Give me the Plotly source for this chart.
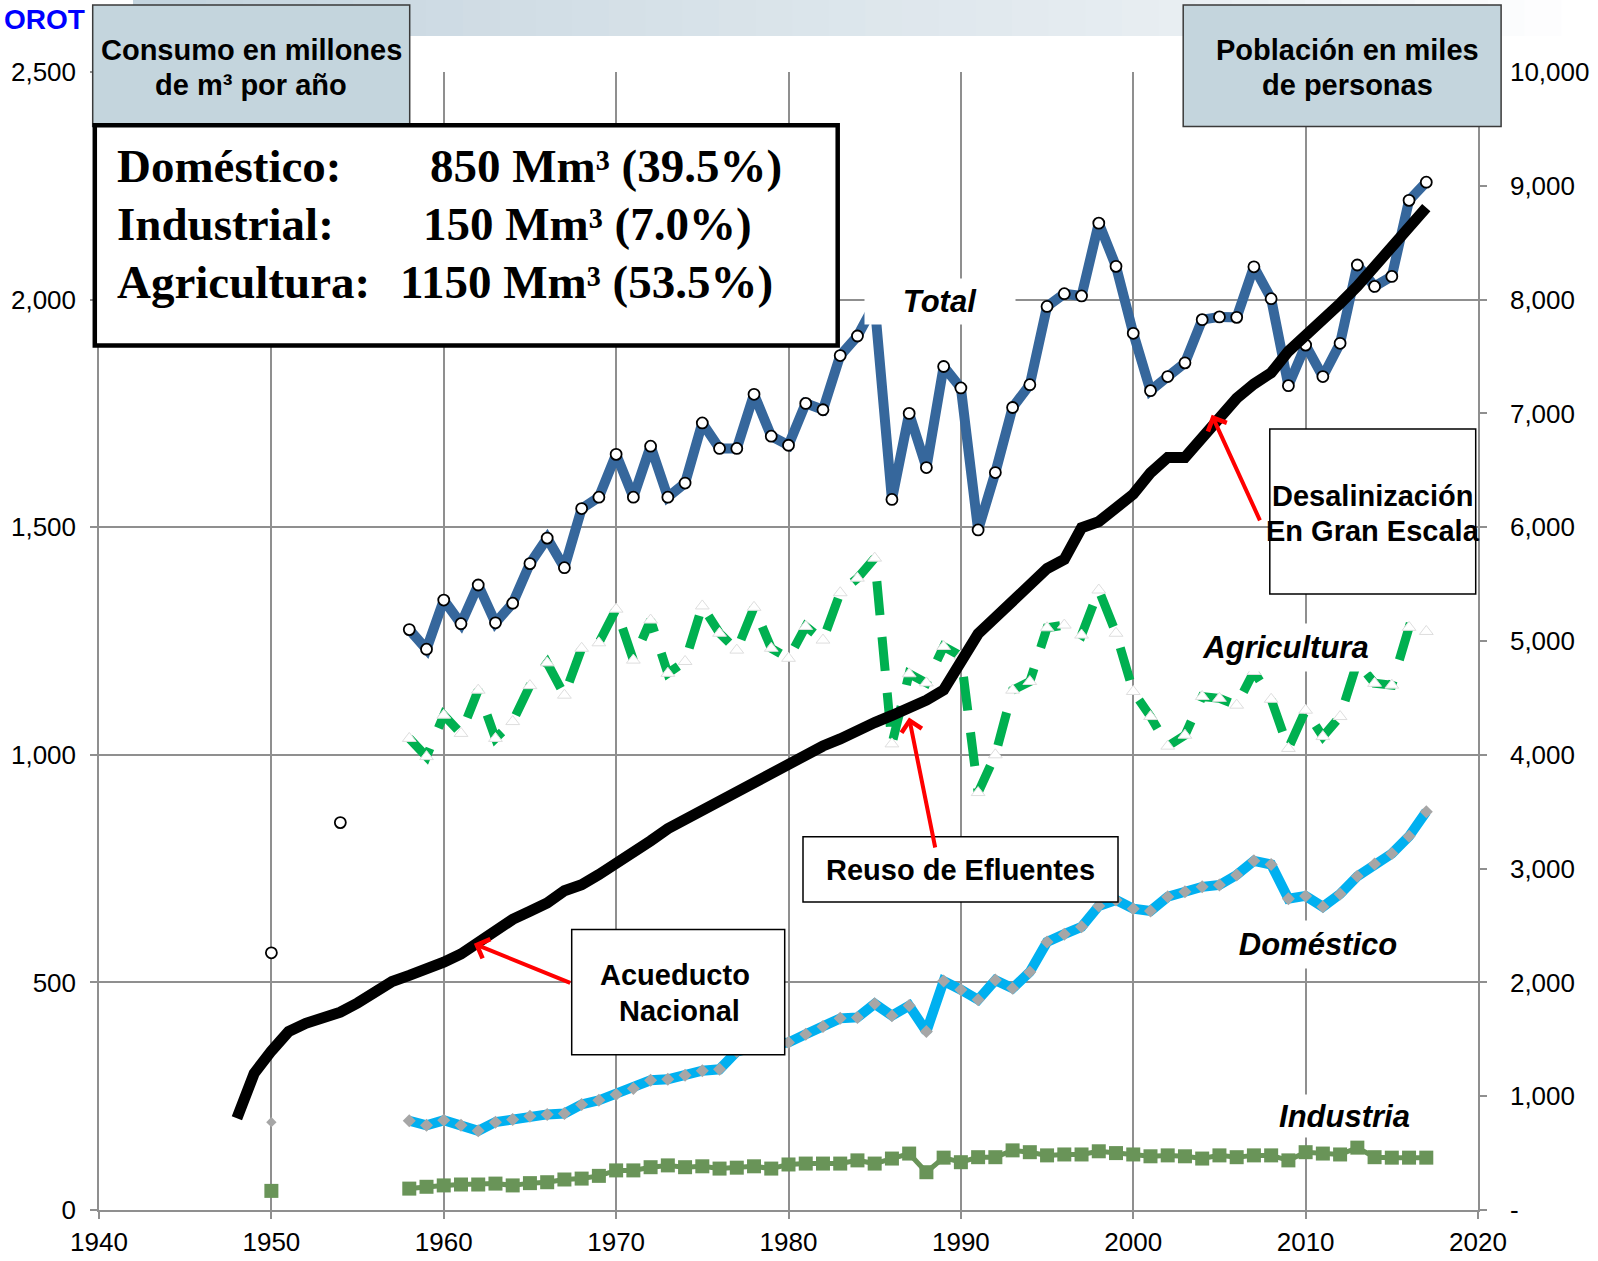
import plotly.graph_objects as go

# ---------------- data ----------------
years_pop = list(range(1948, 2018))
population = [806, 1200, 1397, 1568, 1640, 1685, 1738, 1819, 1909, 2007,
              2061, 2115, 2177, 2249, 2357, 2464, 2554, 2625, 2697, 2805,
              2858, 2948, 3038, 3136, 3244, 3351, 3432, 3504, 3584, 3665,
              3746, 3844, 3934, 3996, 4077, 4140, 4220, 4283, 4346, 4409,
              4480, 4570, 4812, 5063, 5206, 5341, 5484, 5636, 5717, 5995,
              6049, 6183, 6290, 6478, 6613, 6613, 6783, 6971, 7133, 7258,
              7357, 7545, 7679, 7822, 7966, 8118, 8289, 8450, 8629, 8808]

years = list(range(1958, 2018))
total = [1275, 1232, 1340, 1288, 1373, 1290, 1333, 1420, 1476, 1411,
         1541, 1566, 1660, 1566, 1678, 1566, 1597, 1729, 1673, 1673,
         1792, 1700, 1680, 1772, 1758, 1877, 1920, 1990, 1561, 1750,
         1631, 1853, 1806, 1494, 1620, 1763, 1813, 1985, 2013, 2008,
         2168, 2073, 1926, 1800, 1831, 1861, 1956, 1962, 1961, 2072,
         2002, 1811, 1900, 1831, 1904, 2076, 2029, 2051, 2218, 2258]
domestic = [196, 186, 197, 186, 174, 193, 199, 206, 210, 212,
            232, 241, 254, 267, 285, 287, 296, 306, 309, 348,
            358, 365, 368, 386, 403, 421, 423, 453, 427, 449,
            392, 503, 484, 462, 505, 487, 523, 589, 606, 622,
            668, 681, 662, 657, 688, 699, 710, 714, 736, 767,
            759, 684, 690, 666, 694, 733, 760, 783, 821, 875]
industry = [47, 51, 54, 56, 56, 58, 54, 59, 61, 67,
            69, 75, 87, 87, 94, 98, 94, 96, 91, 93,
            96, 91, 100, 102, 102, 102, 109, 102, 113, 124,
            83, 115, 105, 116, 116, 131, 127, 120, 122, 122,
            129, 125, 122, 118, 120, 118, 113, 120, 116, 120,
            120, 109, 127, 124, 122, 137, 116, 115, 115, 115]
agriculture = [1036, 996, 1087, 1047, 1142, 1036, 1073, 1152, 1202, 1131,
               1234, 1246, 1320, 1208, 1296, 1179, 1205, 1327, 1267, 1230,
               1324, 1234, 1212, 1282, 1252, 1356, 1388, 1432, 1024, 1178,
               1158, 1238, 1217, 917, 1000, 1142, 1161, 1279, 1285, 1263,
               1362, 1267, 1139, 1084, 1019, 1043, 1128, 1124, 1109, 1183,
               1122, 1014, 1098, 1040, 1084, 1204, 1157, 1153, 1280, 1271]

years_early_total = [1950, 1954]
total_early = [565, 851]
years_early_sector = [1950]
domestic_early = [193]
industry_early = [42]

x_ticks = [1940, 1950, 1960, 1970, 1980, 1990, 2000, 2010, 2020]
y_ticks = [0, 500, 1000, 1500, 2000, 2500]
y_tick_text = ["0", "500", "1,000", "1,500", "2,000", "2,500"]
y2_ticks = [0, 1000, 2000, 3000, 4000, 5000, 6000, 7000, 8000, 9000, 10000]
y2_tick_text = ["-", "1,000", "2,000", "3,000", "4,000", "5,000",
                "6,000", "7,000", "8,000", "9,000", "10,000"]

# ---------------- layout helpers ----------------
W, H = 1598, 1261
ML, MR, MT, MB = 99, 120, 72, 51
PW = W - ML - MR
PH = H - MT - MB


def px(X):
    return (X - ML) / PW


def py(Y):
    return (H - MB - Y) / PH


SANS = "Liberation Sans, Arial, sans-serif"
SERIF = "Liberation Serif, Times New Roman, serif"
GRID = "#8f8f8f"

fig = go.Figure()

# Agriculture
fig.add_trace(go.Scatter(
    x=years, y=agriculture, mode="lines+markers",
    line=dict(color="#00B050", width=9, dash="34px,22px"),
    marker=dict(symbol="triangle-up", size=12, color="white",
                line=dict(color="#dedede", width=1)),
    showlegend=False, hoverinfo="skip"))

# Domestic
fig.add_trace(go.Scatter(
    x=years, y=domestic, mode="lines+markers",
    line=dict(color="#00B0F0", width=10),
    marker=dict(symbol="diamond", size=10, color="#A6A6A6", line=dict(width=0)),
    showlegend=False, hoverinfo="skip"))
fig.add_trace(go.Scatter(
    x=years_early_sector, y=domestic_early, mode="markers",
    marker=dict(symbol="diamond", size=8, color="#A6A6A6", line=dict(width=0)),
    showlegend=False, hoverinfo="skip"))

# Industry
fig.add_trace(go.Scatter(
    x=years, y=industry, mode="lines+markers",
    line=dict(color="#699458", width=5),
    marker=dict(symbol="square", size=14, color="#699458", line=dict(width=0)),
    showlegend=False, hoverinfo="skip"))
fig.add_trace(go.Scatter(
    x=years_early_sector, y=industry_early, mode="markers",
    marker=dict(symbol="square", size=14, color="#699458", line=dict(width=0)),
    showlegend=False, hoverinfo="skip"))

# Total
fig.add_trace(go.Scatter(
    x=years, y=total, mode="lines+markers",
    line=dict(color="#36679C", width=10),
    marker=dict(symbol="circle", size=11, color="white",
                line=dict(color="black", width=1.8)),
    showlegend=False, hoverinfo="skip"))
fig.add_trace(go.Scatter(
    x=years_early_total, y=total_early, mode="markers",
    marker=dict(symbol="circle", size=11, color="white",
                line=dict(color="black", width=1.8)),
    showlegend=False, hoverinfo="skip"))

# Population (right axis)
fig.add_trace(go.Scatter(
    x=years_pop, y=population, mode="lines", yaxis="y2",
    line=dict(color="black", width=11),
    showlegend=False, hoverinfo="skip"))

shapes = []
# top banner gradient
n = 40
x_start, x_end = 133, 1598
for i in range(n):
    f = i / (n - 1)
    if f < 0.72:
        g = f / 0.72
        c0, c1 = (196, 212, 222), (232, 238, 242)
    else:
        g = (f - 0.72) / 0.28
        c0, c1 = (232, 238, 242), (255, 255, 255)
    col = tuple(int(round(c0[k] + (c1[k] - c0[k]) * g)) for k in range(3))
    xa = x_start + (x_end - x_start) * i / n
    xb = x_start + (x_end - x_start) * (i + 1) / n + 1
    shapes.append(dict(type="rect", xref="paper", yref="paper",
                       x0=px(xa), x1=px(xb), y0=py(36), y1=py(0),
                       fillcolor="rgb(%d,%d,%d)" % col, line=dict(width=0),
                       layer="above"))


def box(x0, y0, x1, y1, fill, lc, lw):
    shapes.append(dict(type="rect", xref="paper", yref="paper",
                       x0=px(x0), x1=px(x1), y0=py(y1), y1=py(y0),
                       fillcolor=fill, line=dict(color=lc, width=lw),
                       layer="above"))


box(92.7, 5.1, 409.7, 126.4, "#C4D5DD", "#3a3a3a", 1.5)
box(1183.2, 5.1, 1501.1, 126.4, "#C4D5DD", "#3a3a3a", 1.5)
box(94.8, 125.3, 837.7, 345.5, "white", "black", 4.5)
box(1269.8, 429, 1475.7, 594.1, "white", "black", 1.5)
box(803, 836.7, 1118, 901.9, "white", "black", 1.5)
box(571.7, 929.4, 784.7, 1054.8, "white", "black", 1.5)

annotations = []


def text(X, Y, s, size, family=SANS, weight="bold", style="normal",
         xanchor="center", color="black", **kw):
    annotations.append(dict(
        xref="paper", yref="paper", x=px(X), y=py(Y), text=s,
        showarrow=False, xanchor=xanchor, yanchor="middle",
        font=dict(family=family, size=size, color=color, weight=weight,
                  style=style), **kw))


# logo fragment at the top-left corner of the slide
text(2, 19, "OROT", 28, family="Liberation Sans Narrow, Liberation Sans, sans-serif",
     xanchor="left", color="#0000FF")

text(251, 50, "Consumo en millones", 29)
text(251, 85, "de m³ por año", 29)
text(1347, 50, "Población en miles", 29)
text(1347, 85, "de personas", 29)

text(115, 166, "Doméstico:", 47, family=SERIF, xanchor="left")
text(428, 166, "850 Mm³ (39.5%)", 47, family=SERIF, xanchor="left")
text(115, 224, "Industrial:", 47, family=SERIF, xanchor="left")
text(421, 224, "150 Mm³ (7.0%)", 47, family=SERIF, xanchor="left")
text(115, 282, "Agricultura:", 47, family=SERIF, xanchor="left")
text(397.5, 282, "1150 Mm³ (53.5%)", 47, family=SERIF, xanchor="left")

text(1372.7, 496, "Desalinización", 29)
text(1372.7, 531, "En Gran Escala", 29)
text(960, 870, "Reuso de Efluentes", 29)
text(675, 975, "Acueducto", 29)
text(679, 1011, "Nacional", 29)

# series labels with white background
text(940, 301, "Total", 31, style="italic", bgcolor="white", width=150,
     height=45, borderpad=0)
text(1285, 647, "Agricultura", 31, style="italic", bgcolor="white",
     width=205, height=47, borderpad=0)
text(1318, 944, "Doméstico", 31, style="italic", bgcolor="white",
     width=190, height=47, borderpad=0)
text(1344, 1116, "Industria", 31, style="italic", bgcolor="white",
     width=165, height=42, borderpad=0)


def arrow(tipX, tipY, tailX, tailY):
    annotations.append(dict(
        xref="paper", yref="paper", x=px(tipX), y=py(tipY), text="",
        showarrow=True, ax=tailX - tipX, ay=tailY - tipY,
        arrowhead=4, arrowsize=1, arrowwidth=4, arrowcolor="#FF0000",
        standoff=0, startstandoff=0))


arrow(1211.7, 414.8, 1260.6, 521.8)
arrow(909, 717.4, 935.5, 849)
arrow(473.9, 943.7, 571.7, 983.4)

axis_common = dict(
    showgrid=True, gridcolor=GRID, gridwidth=1.5,
    showline=True, linecolor=GRID, linewidth=1.5,
    ticks="outside", ticklen=7, tickwidth=1.5, tickcolor=GRID,
    tickfont=dict(family=SANS, size=26, color="black"),
    zeroline=False, fixedrange=True)

fig.update_layout(
    width=W, height=H,
    margin=dict(l=ML, r=MR, t=MT, b=MB, autoexpand=False),
    plot_bgcolor="white", paper_bgcolor="white",
    xaxis=dict(range=[1940, 2020], tickmode="array", tickvals=x_ticks,
               ticktext=[str(v) for v in x_ticks], ticklabelstandoff=1,
               **axis_common),
    yaxis=dict(range=[0, 2500], tickmode="array", tickvals=y_ticks,
               ticktext=y_tick_text, ticklabelstandoff=9, **axis_common),
    yaxis2=dict(range=[0, 10000], overlaying="y", side="right",
                tickmode="array", tickvals=y2_ticks, ticktext=y2_tick_text,
                showgrid=False, showline=True, linecolor=GRID, linewidth=1.5,
                ticks="outside", ticklen=7, tickwidth=1.5, tickcolor=GRID,
                tickfont=dict(family=SANS, size=26, color="black"),
                zeroline=False, fixedrange=True, ticklabelstandoff=18),
    shapes=shapes,
    annotations=annotations,
    showlegend=False,
)

fig.write_html(
    "out.html",
    config={"displayModeBar": False, "staticPlot": False},
    post_script="document.body.style.margin='0';document.body.style.padding='0';"
                "document.body.style.overflow='hidden';",
)
